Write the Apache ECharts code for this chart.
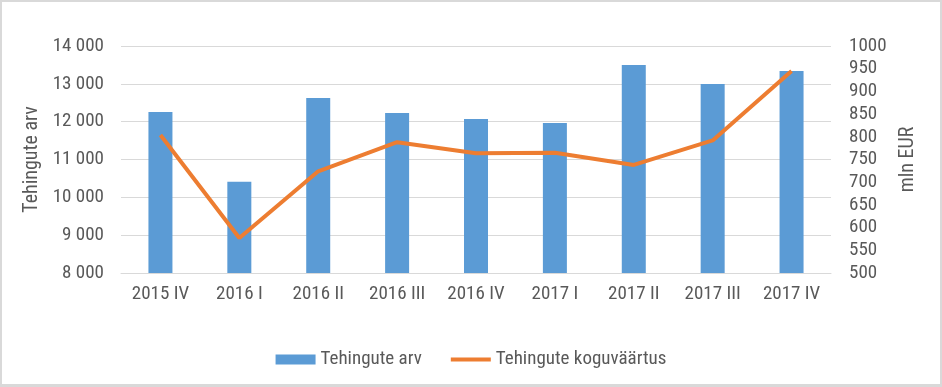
<!DOCTYPE html>
<html>
<head>
<meta charset="utf-8">
<script src="https://cdn.jsdelivr.net/npm/echarts@6/dist/echarts.min.js"></script>
<style>
html,body{margin:0;padding:0;background:#d9d9d9;}
#wrap{position:absolute;left:2px;top:2px;width:938px;height:382px;background:#fff;overflow:visible;}
#chart{position:absolute;left:-2px;top:-2px;width:942px;height:387px;}
</style>
</head>
<body>
<div id="wrap"><div id="chart"></div></div>
<script>
const categories = ['2015 IV','2016 I','2016 II','2016 III','2016 IV','2017 I','2017 II','2017 III','2017 IV'];
const tehinguteArv = [12256, 10409, 12625, 12230, 12071, 11966, 13496, 12995, 13338];
const koguvaartus = [804, 577, 724, 788, 764, 765, 738, 792, 945];

const FONT = '"Roboto Condensed","Liberation Sans Narrow",sans-serif';
const TXT = '#595959';
const chart = echarts.init(document.getElementById('chart'));
chart.setOption({
  animation:false,
  textStyle:{fontFamily:FONT},
  grid:{left:121,right:111,top:46,bottom:114,containLabel:false},
  legend:{
    top:345,left:'center',itemGap:29,itemWidth:40,itemHeight:10,
    symbolKeepAspect:false,
    textStyle:{color:TXT,fontSize:19,fontFamily:FONT},
    data:[{name:'Tehingute arv',icon:'rect'},
          {name:'Tehingute koguväärtus',icon:'path://M0,0 L0.01,0 M0,3 L40,3 L40,7 L0,7 Z M0,10 L0.01,10'}]
  },
  xAxis:{
    type:'category',data:categories,
    axisLine:{lineStyle:{color:'#d9d9d9'}},
    axisTick:{show:false},
    axisLabel:{color:TXT,fontSize:19,margin:12,fontFamily:FONT}
  },
  yAxis:[{
    type:'value',min:8000,max:14000,interval:1000,
    name:'Tehingute arv',nameLocation:'middle',nameGap:78,
    nameTextStyle:{color:TXT,fontSize:20,fontFamily:FONT},
    axisLabel:{color:TXT,fontSize:19,margin:17,fontFamily:FONT,
      formatter:v=>String(v).replace(/\B(?=(\d{3})+(?!\d))/g,' ')},
    splitLine:{lineStyle:{color:'#d9d9d9'}},
    axisLine:{show:false},axisTick:{show:false}
  },{
    type:'value',min:500,max:1000,interval:50,
    name:'mln EUR',nameLocation:'middle',nameGap:67,
    nameTextStyle:{color:TXT,fontSize:20,fontFamily:FONT},
    axisLabel:{color:TXT,fontSize:19,margin:18,fontFamily:FONT,formatter:v=>String(v)},
    splitLine:{show:false},axisLine:{show:false},axisTick:{show:false}
  }],
  series:[{
    name:'Tehingute arv',type:'bar',data:tehinguteArv,barWidth:24,
    itemStyle:{color:'#5B9BD5'}
  },{
    name:'Tehingute koguväärtus',type:'line',yAxisIndex:1,data:koguvaartus,
    symbol:'none',lineStyle:{color:'#ED7D31',width:4},itemStyle:{color:'#ED7D31'}
  }]
});
</script>
</body>
</html>
